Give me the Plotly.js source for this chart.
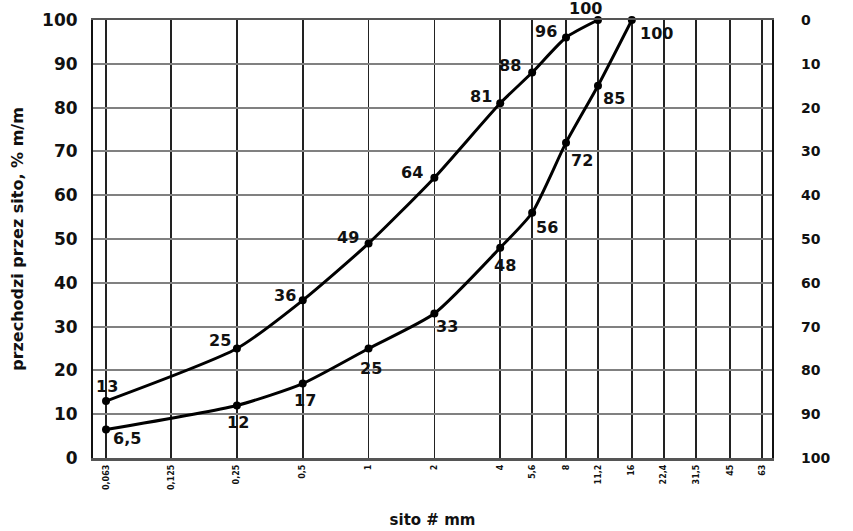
<!DOCTYPE html>
<html><head><meta charset="utf-8">
<script src="https://cdn.plot.ly/plotly-3.0.1.min.js"></script>
<style>html,body{margin:0;padding:0;background:#fff}</style>
</head><body>
<div id="chart" style="width:853px;height:531px"></div>
<script>
// sieve sizes (mm) and their printed labels
const sieveSizes  = [0.063, 0.125, 0.25, 0.5, 1, 2, 4, 5.6, 8, 11.2, 16, 22.4, 31.5, 45, 63];
const sieveLabels = ['0,063','0,125','0,25','0,5','1','2','4','5,6','8','11,2','16','22,4','31,5','45','63'];

// upper grading limit (% passing)
const upperX    = [0.063, 0.25, 0.5, 1, 2, 4, 5.6, 8, 11.2];
const upperY    = [13, 25, 36, 49, 64, 81, 88, 96, 100];
const upperText = ['13','25','36','49','64','81','88','96','100'];

// lower grading limit (% passing)
const lowerX    = [0.063, 0.25, 0.5, 1, 2, 4, 5.6, 8, 11.2, 16];
const lowerY    = [6.5, 12, 17, 25, 33, 48, 56, 72, 85, 100];
const lowerText = ['6,5','12','17','25','33','48','56','72','85','100'];

// axis ticks
const passingTicks  = [0, 10, 20, 30, 40, 50, 60, 70, 80, 90, 100];
const retainedTicks = [0, 10, 20, 30, 40, 50, 60, 70, 80, 90, 100];

// label placement relative to each point (screen px, styling only)
const upperLabelShift = [[1,-15],[-17,-8],[-18,-5],[-21,-6],[-22,-5],[-19,-7],[-22,-7],[-20,-6],[-12,-12]];
const lowerLabelShift = [[21,9],[1,17],[2,17],[2,20],[13,13],[5,18],[15,15],[16,18],[16,13],[25,13]];

const FONT = 'DejaVu Sans, Liberation Sans, Arial, sans-serif';
const labelFont = {family: FONT, size: 16, color: '#111', weight: 'bold'};

function curve(xs, ys) {
  return {
    x: xs, y: ys, type: 'scatter', mode: 'lines+markers',
    line: {color: '#000', width: 3, shape: 'spline', smoothing: 0.6},
    marker: {color: '#000', size: 8},
    cliponaxis: false, hoverinfo: 'skip', showlegend: false
  };
}

const traces = [
  curve(upperX, upperY),
  curve(lowerX, lowerY),
  // invisible trace so that the right (retained %) axis is drawn
  {x: lowerX, y: lowerY, yaxis: 'y2', type: 'scatter', mode: 'none', hoverinfo: 'skip', showlegend: false}
];

function labels(xs, ys, texts, shifts) {
  return xs.map((x, i) => ({
    x: Math.log10(x), y: ys[i], xref: 'x', yref: 'y',
    text: texts[i], showarrow: false,
    xanchor: 'center', yanchor: 'middle',
    xshift: shifts[i][0], yshift: -shifts[i][1],
    font: labelFont
  }));
}

const layout = {
  width: 853, height: 531,
  margin: {l: 93, r: 81, t: 20, b: 73},
  paper_bgcolor: '#fff', plot_bgcolor: '#fff',
  font: {family: FONT, color: '#111'},
  xaxis: {
    type: 'log',
    range: [-1.2602, 1.8451],
    tickmode: 'array', tickvals: sieveSizes, ticktext: sieveLabels,
    tickangle: -90,
    tickfont: {family: FONT, size: 8, color: '#111', weight: 'bold'},
    showgrid: true, gridcolor: '#222', gridwidth: 1.6,
    showline: true, linecolor: '#555', linewidth: 2.5, mirror: true,
    zeroline: false, ticks: '', ticklabelstandoff: 1,
    title: {text: 'sito # mm', font: {family: FONT, size: 15, color: '#111', weight: 'bold'}, standoff: 26}
  },
  yaxis: {
    range: [0, 100],
    tickmode: 'array', tickvals: passingTicks,
    tickfont: {family: FONT, size: 17, color: '#111', weight: 'bold'},
    showgrid: true, gridcolor: '#808080', gridwidth: 2,
    showline: true, linecolor: '#111', linewidth: 2, mirror: true,
    zeroline: false, ticks: '', ticklabelstandoff: 10,
    title: {text: 'przechodzi przez sito, % m/m', font: {family: FONT, size: 16, color: '#111', weight: 'bold'}, standoff: 14}
  },
  yaxis2: {
    overlaying: 'y', side: 'right', anchor: 'x',
    range: [100, 0],
    tickmode: 'array', tickvals: retainedTicks,
    tickfont: {family: FONT, size: 14, color: '#111', weight: 'bold'},
    showgrid: false, showline: false, zeroline: false, ticks: '', ticklabelstandoff: 28
  },
  annotations: labels(upperX, upperY, upperText, upperLabelShift)
    .concat(labels(lowerX, lowerY, lowerText, lowerLabelShift))
};

Plotly.newPlot('chart', traces, layout, {staticPlot: true, displayModeBar: false});
</script>
</body></html>
